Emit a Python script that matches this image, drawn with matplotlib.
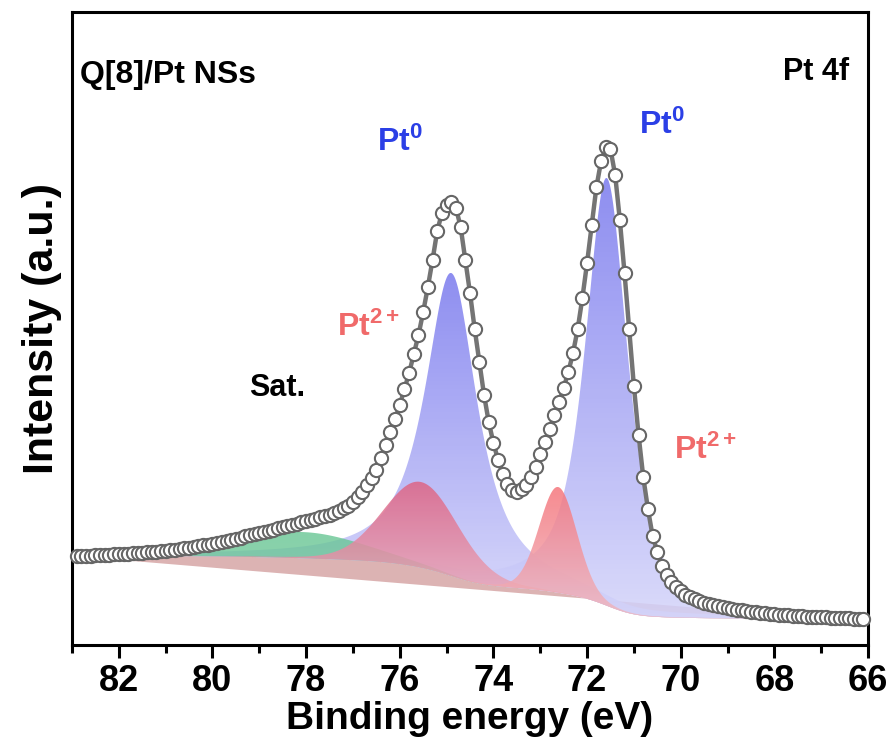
import numpy as np
import matplotlib
matplotlib.use("Agg")
import matplotlib.pyplot as plt
from matplotlib import font_manager as fm

# ---------------- data ----------------
energy = np.round(np.linspace(82.9, 66.1, 169), 1)   # binding energy (eV), 0.1 eV steps
intensity = np.array([
    89.0, 89.1, 89.2, 89.4, 89.6, 89.8, 90.0, 90.3, 90.6, 90.9,
    91.2, 91.5, 91.8, 92.1, 92.4, 92.7, 93.0, 93.4, 93.8, 94.3,
    94.8, 95.4, 96.0, 96.7, 97.4, 98.1, 98.9, 99.7, 100.5, 101.4,
    102.3, 103.3, 104.3, 105.3, 106.4, 107.5, 108.6, 109.7, 110.8, 112.0,
    113.1, 114.3, 115.5, 116.7, 117.9, 119.1, 120.3, 121.5, 122.6, 123.8,
    125.0, 126.3, 127.6, 129.0, 130.5, 132.3, 134.3, 136.6, 139.4, 143.0,
    147.8, 153.5, 160.0, 167.0, 175.0, 187, 200, 213, 226, 240,
    256, 272, 291, 310, 333, 358, 385, 414, 432, 440,
    443, 437, 418, 385, 352, 316, 283, 250, 223, 202,
    185, 171, 161, 155, 153, 156, 160, 168, 178, 191,
    203, 216, 230, 243, 257, 273, 292, 316, 347, 382,
    420, 458, 484, 498, 496, 470, 425, 372, 316, 259,
    210, 168, 136, 109, 93, 79, 70, 63, 58, 54,
    50.5, 48, 46, 44, 42.3, 41.0, 39.8, 38.8, 37.9, 37.0,
    36.2, 35.4, 34.7, 34.0, 33.4, 32.8, 32.2, 31.7, 31.2, 30.8,
    30.4, 30.0, 29.7, 29.4, 29.1, 28.8, 28.5, 28.2, 28.0, 27.8,
    27.6, 27.4, 27.2, 27.0, 26.8, 26.6, 26.4, 26.2, 26.0,
])

# fitted components (apex height)
peak_names = ["Pt0 4f5/2", "Pt0 4f7/2", "Sat.", "Pt2+ 4f5/2", "Pt2+ 4f7/2"]
peak_centers = [74.90, 71.58, 78.1, 75.55, 72.62]
peak_apex = [372, 467, 113, 163, 158]
peak_fwhm = [1.35, 1.1, 3.2, 1.9, 0.95]
peak_eta = [0.9, 0.75, 0.0, 0.1, 0.1]
peak_top_rgb = [(122, 122, 238), (122, 122, 238), (104, 198, 148), (222, 100, 132), (246, 118, 124)]
peak_bot_rgb = [(212, 212, 250), (212, 212, 250), (120, 200, 158), (236, 184, 198), (238, 186, 196)]
peak_alpha = [0.85, 0.85, 0.8, 0.85, 0.85]

xtick_values = [82, 80, 78, 76, 74, 72, 70, 68, 66]

# ---------------- fonts ----------------
names = {f.name for f in fm.fontManager.ttflist}
BASE = "Liberation Sans" if "Liberation Sans" in names else "DejaVu Sans"
plt.rcParams["font.family"] = [BASE, "DejaVu Sans"]
plt.rcParams["font.weight"] = "bold"
plt.rcParams["mathtext.fontset"] = "custom"
plt.rcParams["mathtext.rm"] = BASE + ":bold"
plt.rcParams["mathtext.bf"] = BASE + ":bold"
plt.rcParams["mathtext.it"] = BASE + ":bold"


def shirley(x, y, n_iter=40):
    xs, ys = x[::-1], y[::-1]
    lo, hi = ys[:3].mean(), ys[-3:].mean()
    b = np.full_like(ys, lo, dtype=float)
    for _ in range(n_iter):
        d = np.clip(ys - b, 0, None)
        cum = np.concatenate([[0], np.cumsum(0.5 * (d[1:] + d[:-1]) * np.diff(xs))])
        b = lo + (hi - lo) * cum / cum[-1]
    return b[::-1]


def pvoigt(x, c, fwhm, eta):
    g = np.exp(-4 * np.log(2) * ((x - c) / fwhm) ** 2)
    lz = 1.0 / (1 + ((x - c) / (fwhm / 2)) ** 2)
    return eta * lz + (1 - eta) * g


def grad_fill(ax, x, ytop, ybot, ctop, cbot, alpha, z):
    poly = ax.fill_between(x, ybot, ytop, facecolor="none", edgecolor="none", zorder=z)
    path = poly.get_paths()[0]
    n = 256
    t = np.linspace(0, 1, n)[:, None]
    ct = np.array(ctop) / 255.0
    cb = np.array(cbot) / 255.0
    img = np.zeros((n, 1, 4))
    img[:, 0, :3] = cb + (ct - cb) * t
    img[:, 0, 3] = alpha
    im = ax.imshow(img, aspect="auto", origin="lower", interpolation="bilinear",
                   extent=[x.min(), x.max(), min(ybot.min(), ytop.min()), ytop.max()], zorder=z)
    im.set_clip_path(path, transform=ax.transData)


W, H = 896, 751
fig = plt.figure(figsize=(W / 100, H / 100), dpi=100)
ax = fig.add_axes([72 / W, 1 - 645 / H, (868 - 72) / W, (645 - 12) / H])

xf = np.linspace(83.0, 66.0, 1200)
shir = shirley(energy, intensity)
sf = np.interp(xf[::-1], energy[::-1], shir[::-1])[::-1]
lin = np.interp(xf, [66.0, 83.0], [intensity[-1] - 3, intensity[0]])

# background wedge between Shirley and linear lines
ax.fill_between(xf, sf, lin, facecolor=(0.78, 0.52, 0.52), alpha=0.62, edgecolor="none", zorder=1)

for i in range(len(peak_names)):
    c = peak_centers[i]
    base_c = np.interp(c, energy[::-1], shir[::-1])
    amp = peak_apex[i] - base_c
    top = sf + amp * pvoigt(xf, c, peak_fwhm[i], peak_eta[i])
    grad_fill(ax, xf, top, sf, peak_top_rgb[i], peak_bot_rgb[i], peak_alpha[i], 2 + i * 0.1)

ax.plot(energy, intensity, color="#747474", lw=3.2, zorder=4)
ax.plot(energy, intensity, "o", mfc="white", mec="#666666", ms=9.5, mew=1.5, zorder=5, clip_on=False)

ax.set_xlim(83, 66)
ax.set_ylim(0, 633)
ax.set_xticks(xtick_values)
ax.set_xticks(np.arange(66, 84, 1), minor=True)
ax.set_yticks([])
ax.tick_params(axis="x", which="major", direction="out", length=9, width=2.2, labelsize=26, pad=5)
ax.tick_params(axis="x", which="minor", direction="out", length=5.5, width=2.2)
for lab in ax.get_xticklabels():
    lab.set_fontweight("bold")
for s in ax.spines.values():
    s.set_linewidth(2.2)

ax.set_xlabel("Binding energy (eV)", fontsize=28, fontweight="bold", labelpad=1)
ax.set_ylabel("Intensity (a.u.)", fontsize=31, fontweight="bold", labelpad=7)


def ftext(x, y, s, **kw):
    fig.text(x / W, 1 - y / H, s, **kw)


ftext(80, 75, "Q[8]/Pt NSs", fontsize=23, fontweight="bold", ha="left", va="center")
ftext(849, 72, "Pt 4f", fontsize=22, fontweight="bold", ha="right", va="center")
ftext(400, 142, r"Pt$^{0}$", fontsize=23, color="#2b3fe6", ha="center", va="center", fontweight="bold")
ftext(662, 125, r"Pt$^{0}$", fontsize=23, color="#2b3fe6", ha="center", va="center", fontweight="bold")
ftext(368, 327, r"Pt$^{2+}$", fontsize=23, color="#f06a6a", ha="center", va="center", fontweight="bold")
ftext(705, 450, r"Pt$^{2+}$", fontsize=23, color="#f06a6a", ha="center", va="center", fontweight="bold")
ftext(277, 388, "Sat.", fontsize=22, fontweight="bold", ha="center", va="center")

fig.savefig("out.png", dpi=100)
